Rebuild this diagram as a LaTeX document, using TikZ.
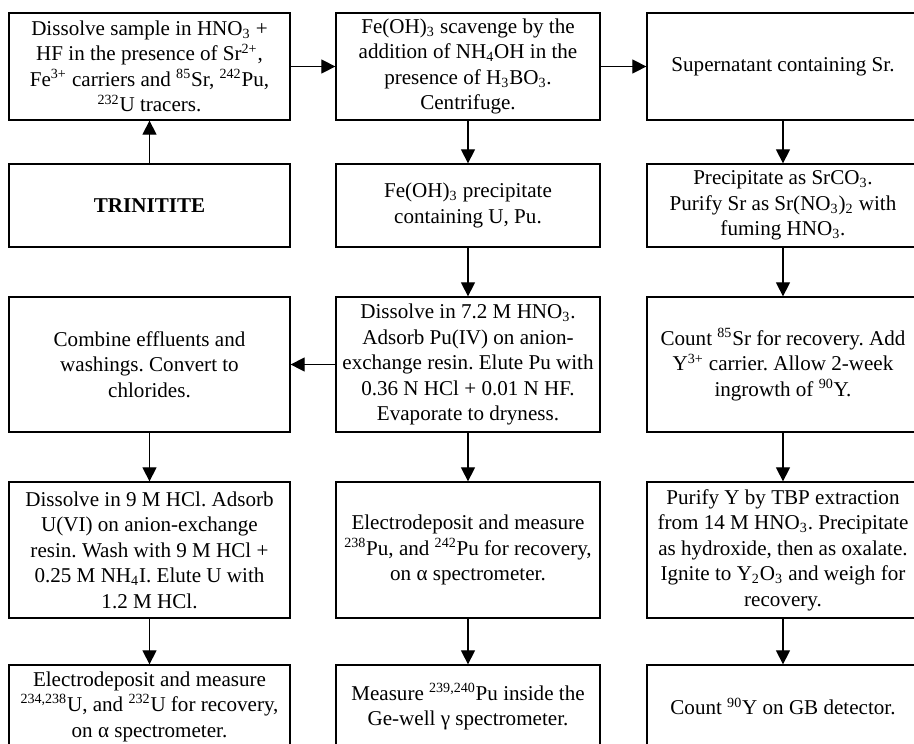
\documentclass[tikz,border=0pt]{standalone}
\usepackage{fontspec}
\setmainfont{Liberation Serif}
\usetikzlibrary{arrows.meta}
\frenchspacing

\begin{document}
\begin{tikzpicture}[x=0.02cm,y=-0.02cm,
		box/.style={draw,rectangle,inner sep=0pt,align=center,line width=0.75pt,font=\fontsize{12}{14.5}\selectfont},
		flow/.style={-{Triangle[length=8pt,width=8pt]},line width=0.75pt}]
			\useasboundingbox (0,0) rectangle (914,744);
			% column 1
			\node[box,minimum width=5.62cm,minimum height=2.14cm] (p1) at (149.5,66.5){Dissolve sample in HNO\textsubscript{3} +\\ HF in the presence of Sr\textsuperscript{2+},\\ Fe\textsuperscript{3+} carriers and \textsuperscript{85}Sr, \textsuperscript{242}Pu,\\ \textsuperscript{232}U tracers.};
			\node[box,minimum width=5.62cm,minimum height=1.66cm] (p4) at (149.5,205.5){\textbf{TRINITITE}};
			\node[box,minimum width=5.62cm,minimum height=2.7cm] (p7) at (149.5,364.5){Combine effluents and\\ washings. Convert to\\ chlorides.};
			\node[box,minimum width=5.62cm,minimum height=2.72cm] (p10) at (149.5,550){Dissolve in 9 M HCl. Adsorb\\ U(VI) on anion-exchange\\ resin. Wash with 9 M HCl +\\ 0.25 M NH\textsubscript{4}I. Elute U with\\ 1.2 M HCl.};
			\node[box,minimum width=5.62cm,minimum height=1.66cm] (p13) at (149.5,706.5){Electrodeposit and measure\\ \textsuperscript{234,238}U, and \textsuperscript{232}U for recovery,\\ on α spectrometer.};
			% column 2
			\node[box,minimum width=5.28cm,minimum height=2.14cm] (p2) at (468,66.5){Fe(OH)\textsubscript{3} scavenge by the\\ addition of NH\textsubscript{4}OH in the\\ presence of H\textsubscript{3}BO\textsubscript{3}.\\ Centrifuge.};
			\node[box,minimum width=5.28cm,minimum height=1.66cm] (p5) at (468,205.5){Fe(OH)\textsubscript{3} precipitate\\ containing U, Pu.};
			\node[box,minimum width=5.28cm,minimum height=2.7cm] (p8) at (468,364.5){Dissolve in 7.2 M HNO\textsubscript{3}.\\ Adsorb Pu(IV) on anion-\\ exchange resin. Elute Pu with\\ 0.36 N HCl + 0.01 N HF.\\ Evaporate to dryness.};
			\node[box,minimum width=5.28cm,minimum height=2.72cm] (p11) at (468,550){Electrodeposit and measure\\ \textsuperscript{238}Pu, and \textsuperscript{242}Pu for recovery,\\ on α spectrometer.};
			\node[box,minimum width=5.28cm,minimum height=1.66cm] (p14) at (468,706.5){Measure \textsuperscript{239,240}Pu inside the\\ Ge-well γ spectrometer.};
			% column 3
			\node[box,minimum width=5.44cm,minimum height=2.14cm] (p3) at (783,66.5){Supernatant containing Sr.};
			\node[box,minimum width=5.44cm,minimum height=1.66cm] (p6) at (783,205.5){Precipitate as SrCO\textsubscript{3}.\\ Purify Sr as Sr(NO\textsubscript{3})\textsubscript{2} with\\ fuming HNO\textsubscript{3}.};
			\node[box,minimum width=5.44cm,minimum height=2.7cm] (p9) at (783,364.5){Count \textsuperscript{85}Sr for recovery. Add\\ Y\textsuperscript{3+} carrier. Allow 2-week\\ ingrowth of \textsuperscript{90}Y.};
			\node[box,minimum width=5.44cm,minimum height=2.72cm] (p12) at (783,550){Purify Y by TBP extraction\\ from 14 M HNO\textsubscript{3}. Precipitate\\ as hydroxide, then as oxalate.\\ Ignite to Y\textsubscript{2}O\textsubscript{3} and weigh for\\ recovery.};
			\node[box,minimum width=5.44cm,minimum height=1.66cm] (p15) at (783,706.5){Count \textsuperscript{90}Y on GB detector.};
			% connectors
			\draw (p4) edge [flow] (p1);
			\draw (p1) edge [flow] (p2);
			\draw (p2) edge [flow] (p3);
			\draw (p2) edge [flow] (p5);
			\draw (p5) edge [flow] (p8);
			\draw (p8) edge [flow] (p7);
			\draw (p8) edge [flow] (p11);
			\draw (p11) edge [flow] (p14);
			\draw (p7) edge [flow] (p10);
			\draw (p10) edge [flow] (p13);
			\draw (p3) edge [flow] (p6);
			\draw (p6) edge [flow] (p9);
			\draw (p9) edge [flow] (p12);
			\draw (p12) edge [flow] (p15);
		\end{tikzpicture}
\end{document}
